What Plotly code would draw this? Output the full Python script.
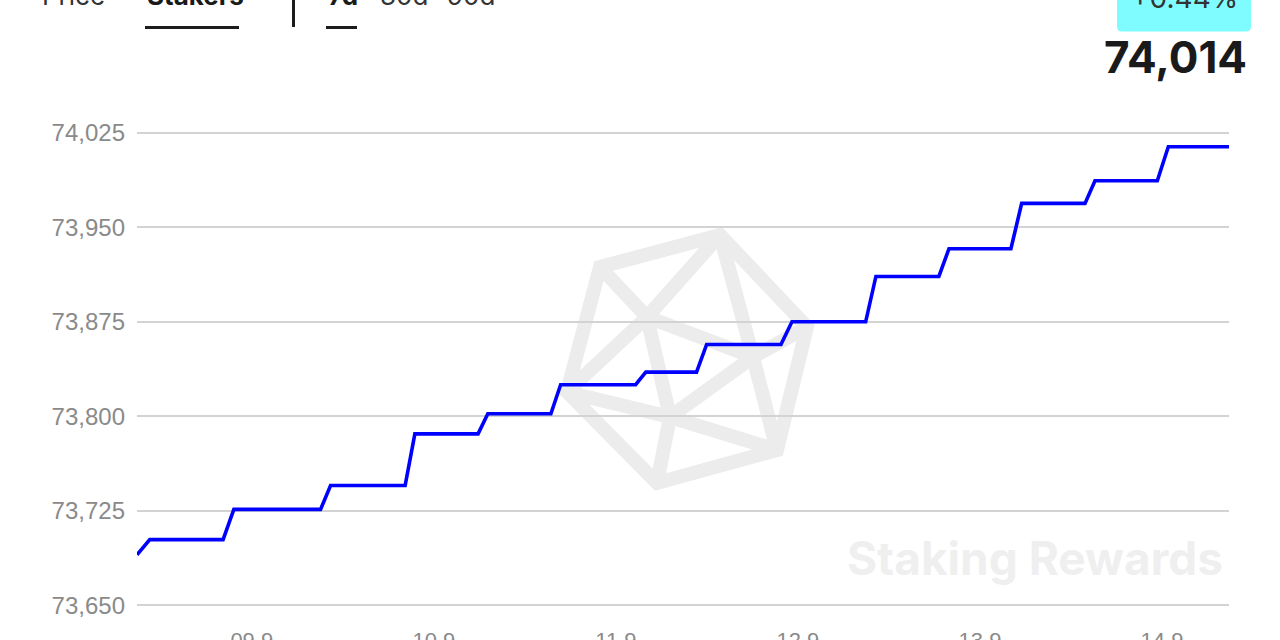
import plotly.graph_objects as go

# ---------------- data ----------------
dates = [
    "2024-09-08 08:52", "2024-09-08 10:33", "2024-09-08 20:13", "2024-09-08 21:38",
    "2024-09-09 09:04", "2024-09-09 10:23", "2024-09-09 20:13", "2024-09-09 21:30",
    "2024-09-10 05:50", "2024-09-10 07:07", "2024-09-10 15:26", "2024-09-10 16:43",
    "2024-09-11 02:36", "2024-09-11 03:57", "2024-09-11 10:38", "2024-09-11 11:58",
    "2024-09-11 21:46", "2024-09-11 23:13", "2024-09-12 08:56", "2024-09-12 10:17",
    "2024-09-12 18:35", "2024-09-12 19:55", "2024-09-13 04:05", "2024-09-13 05:30",
    "2024-09-13 13:51", "2024-09-13 15:10", "2024-09-13 23:23", "2024-09-14 00:50",
    "2024-09-14 08:50",
]
stakers = [
    73690, 73702, 73702, 73726,
    73726, 73745, 73745, 73786,
    73786, 73802, 73802, 73825,
    73825, 73835, 73835, 73857,
    73857, 73875, 73875, 73911,
    73911, 73933, 73933, 73969,
    73969, 73987, 73987, 74014,
    74014,
]
y_ticks = [73650, 73725, 73800, 73875, 73950, 74025]
x_tick_dates = ["2024-09-09", "2024-09-10", "2024-09-11", "2024-09-12", "2024-09-13", "2024-09-14"]
x_tick_labels = ["09.9", "10.9", "11.9", "12.9", "13.9", "14.9"]
tabs = ["Price", "Stakers"]
periods = ["7d", "30d", "90d"]
change_label = "+0.44%"
latest_label = "74,014"
watermark = "Staking Rewards"

# ---------------- layout helpers ----------------
W, H = 1280, 640
# plot area in page pixels
PL, PR, PT, PB = 137, 1229, 114, 624
L, R, T, B = PL, PR, PT, PB


def px(x):  # page px -> paper x
    return (x - PL) / (PR - PL)


def py(y):  # page px -> paper y
    return (PB - y) / (PB - PT)


fig = go.Figure()
fig.add_trace(go.Scatter(
    x=dates, y=stakers, mode="lines",
    line=dict(color="#0000ff", width=3.6),
    hoverinfo="skip",
))

# watermark logo (icosahedron outline)
Tv, UL, Lv, Bv, BR, Rv = (720, 235), (600, 267), (567, 392), (657, 483), (777, 450), (807, 327)
P1, P2, P3 = (647, 317), (753, 357), (670, 417)


def pt(p):
    return f"{px(p[0]):.5f},{py(p[1]):.5f}"


segs = [
    "M" + pt(Tv) + " L" + pt(UL) + " L" + pt(Lv) + " L" + pt(Bv) + " L" + pt(BR) + " L" + pt(Rv) + " Z",
    "M" + pt(P1) + " L" + pt(P2) + " L" + pt(P3) + " Z",
]
for a, b in [(Tv, P1), (UL, P1), (Lv, P1), (Tv, P2), (Rv, P2), (BR, P2), (Lv, P3), (Bv, P3), (BR, P3)]:
    segs.append("M" + pt(a) + " L" + pt(b))

shapes = [dict(type="path", path=" ".join(segs), xref="paper", yref="paper",
               line=dict(color="#ececec", width=14), layer="below")]


def rect(x0, y0, x1, y1, color):
    return dict(type="rect", xref="paper", yref="paper", x0=px(x0), x1=px(x1), y0=py(y1), y1=py(y0),
                fillcolor=color, line=dict(width=0), layer="above")


shapes.append(rect(145, 26, 239, 29, "#1c1c1c"))
shapes.append(rect(326, 26, 357, 29, "#1c1c1c"))
shapes.append(rect(292, -10, 295, 27, "#1c1c1c"))

# badge with rounded bottom corners
bx0, bx1, by0, by1, rr = 1117, 1251, -20, 31.5, 5
badge_path = (f"M{px(bx0):.5f},{py(by0):.5f} L{px(bx1):.5f},{py(by0):.5f} "
              f"L{px(bx1):.5f},{py(by1 - rr):.5f} Q{px(bx1):.5f},{py(by1):.5f} {px(bx1 - rr):.5f},{py(by1):.5f} "
              f"L{px(bx0 + rr):.5f},{py(by1):.5f} Q{px(bx0):.5f},{py(by1):.5f} {px(bx0):.5f},{py(by1 - rr):.5f} Z")
shapes.append(dict(type="path", path=badge_path, xref="paper", yref="paper",
                   fillcolor="#7ffcff", line=dict(width=0), layer="above"))

ann = []


def text(s, x, y, size, color, xanchor="left", bold=False, family="Inter"):
    ann.append(dict(text=f"<b>{s}</b>" if bold else s, x=px(x), y=py(y), xref="paper", yref="paper",
                    xanchor=xanchor, yanchor="middle", showarrow=False,
                    font=dict(family=family, size=size, color=color)))


text(tabs[0], 40, -4, 26, "#333333")
text(tabs[1], 145, -4, 26, "#1a1a1a", bold=True)
text(periods[0], 326, -4, 26, "#1a1a1a", bold=True)
text(periods[1], 378, -4, 26, "#333333")
text(periods[2], 445, -4, 26, "#333333")
text(change_label, 1184, -2, 28, "#333333", xanchor="center")
text(latest_label, 1249, 57, 44, "#1a1a1a", xanchor="right", bold=True)
text(watermark, 845, 558, 46, "#efefef", bold=True)

fig.update_layout(
    width=W, height=H,
    margin=dict(l=L, r=W - R, t=T, b=H - B, pad=0, autoexpand=False),
    paper_bgcolor="white", plot_bgcolor="white",
    showlegend=False,
    shapes=shapes, annotations=ann,
    xaxis=dict(type="date", range=[dates[0], dates[-1]], showgrid=False, zeroline=False,
               showline=False, ticks="", tickvals=x_tick_dates, ticktext=x_tick_labels,
               tickfont=dict(family="Liberation Sans", size=22, color="#8a8a8a"),
               ticklabelstandoff=1, automargin=False),
    yaxis=dict(range=[73635, 74040], tickvals=y_ticks, tickformat=",d", showgrid=True,
               gridcolor="#d3d3d3", gridwidth=2, zeroline=False, showline=False, ticks="",
               tickfont=dict(family="Liberation Sans", size=24, color="#8a8a8a"),
               ticklabelstandoff=11, automargin=False),
)

fig.write_html("out.html", config={"displayModeBar": False},
               post_script="document.body.style.margin='0';")
